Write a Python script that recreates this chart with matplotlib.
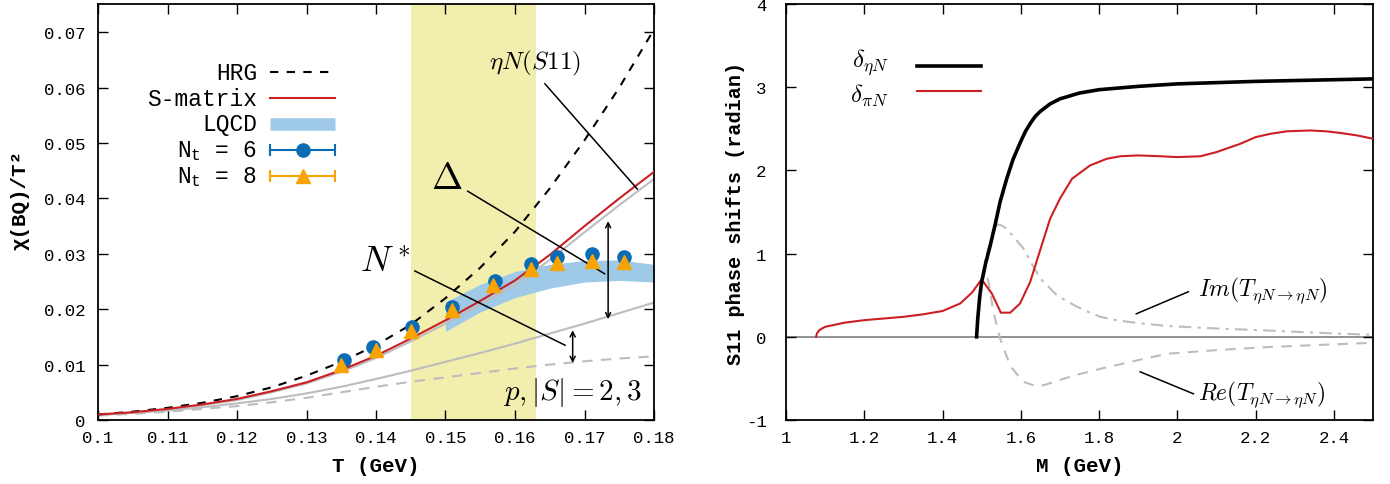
import matplotlib
matplotlib.use('Agg')
import matplotlib.pyplot as plt

plt.rcParams['font.family'] = ['Liberation Mono', 'DejaVu Sans Mono']
plt.rcParams['mathtext.fontset'] = 'cm'
plt.rcParams['mathtext.rm'] = 'Liberation Mono'
plt.rcParams['mathtext.it'] = 'Liberation Mono'
plt.rcParams['mathtext.bf'] = 'Liberation Mono:bold'

# ---------------- left panel data ----------------
T_grid = [0.100, 0.105, 0.110, 0.115, 0.120, 0.125, 0.130, 0.135, 0.140,
          0.145, 0.150, 0.155, 0.160, 0.165, 0.170, 0.175, 0.180]
hrg = [0.0010, 0.0015, 0.0022, 0.0031, 0.0043, 0.0059, 0.0080, 0.0105, 0.0135,
       0.0172, 0.0220, 0.0275, 0.0340, 0.0418, 0.0505, 0.0600, 0.0705]
smatrix = [0.0010, 0.0014, 0.0020, 0.0028, 0.0038, 0.0052, 0.0068, 0.0090, 0.0116,
           0.0147, 0.0180, 0.0215, 0.0252, 0.0298, 0.0350, 0.0400, 0.0448]
etaN_s11 = [0.0009, 0.0013, 0.0019, 0.0027, 0.0036, 0.0050, 0.0066, 0.0087, 0.0112,
            0.0142, 0.0174, 0.0208, 0.0244, 0.0289, 0.0339, 0.0388, 0.0435]
gray_lower = [0.0009, 0.0013, 0.0017, 0.0023, 0.0030, 0.0038, 0.0048, 0.0060, 0.0074,
              0.0089, 0.0105, 0.0121, 0.0138, 0.0156, 0.0174, 0.0193, 0.0212]
p_strange = [0.0008, 0.0011, 0.0015, 0.0020, 0.0025, 0.0032, 0.0040, 0.0050, 0.0060,
             0.0069, 0.0077, 0.0085, 0.0093, 0.0100, 0.0106, 0.0111, 0.0115]

lqcd_T = [0.150, 0.155, 0.160, 0.165, 0.170, 0.175, 0.180]
lqcd_hi = [0.0213, 0.0245, 0.0268, 0.0281, 0.0288, 0.0289, 0.0281]
lqcd_lo = [0.0160, 0.0195, 0.0221, 0.0238, 0.0249, 0.0252, 0.0249]

nt6_T = [0.1354, 0.1396, 0.1452, 0.1509, 0.1571, 0.1623, 0.1660, 0.1711, 0.1757]
nt6_y = [0.0108, 0.0132, 0.0168, 0.0204, 0.0251, 0.0282, 0.0294, 0.0300, 0.0294]
nt8_T = [0.1350, 0.1400, 0.1450, 0.1510, 0.1568, 0.1623, 0.1660, 0.1711, 0.1757]
nt8_y = [0.0099, 0.0127, 0.0161, 0.0198, 0.0243, 0.0273, 0.0283, 0.0287, 0.0285]

left_xticks = [0.10, 0.11, 0.12, 0.13, 0.14, 0.15, 0.16, 0.17, 0.18]
left_xlabels = ['0.1', '0.11', '0.12', '0.13', '0.14', '0.15', '0.16', '0.17', '0.18']
left_yticks = [0, 0.01, 0.02, 0.03, 0.04, 0.05, 0.06, 0.07]
left_ylabels = ['0', '0.01', '0.02', '0.03', '0.04', '0.05', '0.06', '0.07']

# ---------------- right panel data ----------------
eta_M = [1.487, 1.490, 1.495, 1.500, 1.510, 1.522, 1.535, 1.547, 1.564, 1.580,
         1.600, 1.612, 1.625, 1.637, 1.650, 1.675, 1.700, 1.750, 1.800, 1.900,
         2.000, 2.200, 2.500]
eta_delta = [0.00, 0.22, 0.48, 0.66, 0.88, 1.10, 1.36, 1.62, 1.90, 2.13,
             2.35, 2.47, 2.57, 2.65, 2.71, 2.80, 2.86, 2.93, 2.97, 3.01,
             3.04, 3.07, 3.10]

pi_M = [1.077, 1.079, 1.085, 1.100, 1.150, 1.200, 1.250, 1.300, 1.350, 1.400,
        1.445, 1.475, 1.500, 1.526, 1.549, 1.573, 1.598, 1.624, 1.650, 1.675,
        1.700, 1.731, 1.777, 1.820, 1.854, 1.900, 1.957, 2.000, 2.059, 2.100,
        2.161, 2.200, 2.238, 2.280, 2.340, 2.380, 2.417, 2.460, 2.500]
pi_delta = [0.00, 0.04, 0.08, 0.12, 0.17, 0.20, 0.22, 0.24, 0.27, 0.31,
            0.40, 0.53, 0.69, 0.52, 0.29, 0.29, 0.40, 0.66, 1.05, 1.42,
            1.66, 1.90, 2.06, 2.14, 2.17, 2.18, 2.17, 2.16, 2.17, 2.22,
            2.32, 2.40, 2.44, 2.47, 2.48, 2.47, 2.45, 2.42, 2.38]

im_M = [1.487, 1.495, 1.500, 1.510, 1.522, 1.532, 1.539, 1.550, 1.564, 1.580,
        1.607, 1.630, 1.650, 1.692, 1.740, 1.777, 1.803, 1.850, 1.900, 1.974,
        2.100, 2.229, 2.350, 2.500]
im_T = [0.00, 0.45, 0.70, 0.95, 1.14, 1.30, 1.35, 1.34, 1.30, 1.21,
        1.06, 0.86, 0.70, 0.50, 0.37, 0.29, 0.24, 0.195, 0.165, 0.13,
        0.10, 0.076, 0.05, 0.024]

re_M = [1.487, 1.495, 1.500, 1.509, 1.518, 1.530, 1.547, 1.573, 1.606, 1.637,
        1.660, 1.692, 1.740, 1.803, 1.900, 1.974, 2.100, 2.229, 2.350, 2.500]
re_T = [0.00, 0.40, 0.62, 0.80, 0.65, 0.30, -0.02, -0.35, -0.54, -0.59,
        -0.58, -0.53, -0.46, -0.385, -0.28, -0.204, -0.16, -0.124, -0.10, -0.072]

right_xticks = [1.0, 1.2, 1.4, 1.6, 1.8, 2.0, 2.2, 2.4]
right_xlabels = ['1', '1.2', '1.4', '1.6', '1.8', '2', '2.2', '2.4']
right_yticks = [-1, 0, 1, 2, 3, 4]
right_ylabels = ['-1', '0', '1', '2', '3', '4']

# ---------------- styling ----------------
W, H = 1390, 485
fig = plt.figure(figsize=(W / 100, H / 100), dpi=100)
ax1 = fig.add_axes([98 / W, 64 / H, 556 / W, 416 / H])
ax2 = fig.add_axes([786 / W, 64 / H, 587 / W, 416 / H])

RED = '#cc1f24'
GRAY = '#bdbdbd'
BLUE = '#0b6cb6'
ORANGE = '#f8a300'
BAND = '#9ecae8'
YELLOW = '#f1eeae'

for ax in (ax1, ax2):
    ax.tick_params(direction='in', top=True, right=True, length=7, width=1,
                   labelsize=12.5, pad=9)
    for s in ax.spines.values():
        s.set_linewidth(1.3)

# ---- left panel ----
ax1.axvspan(0.145, 0.163, color=YELLOW, lw=0, zorder=0)
ax1.fill_between(lqcd_T, lqcd_lo, lqcd_hi, color=BAND, lw=0, zorder=1)
ax1.plot(T_grid, p_strange, color=GRAY, lw=1.5, ls=(0, (5, 4)), zorder=2)
ax1.plot(T_grid, gray_lower, color=GRAY, lw=1.5, zorder=2)
ax1.plot(T_grid, etaN_s11, color=GRAY, lw=1.5, zorder=2)
ax1.plot(T_grid, hrg, color='black', lw=1.5, ls=(0, (4, 4)), zorder=3)
ax1.plot(T_grid, smatrix, color=RED, lw=1.5, zorder=3)
ax1.plot(nt6_T, nt6_y, 'o', ms=9.5, color=BLUE, zorder=5)
ax1.plot(nt8_T, nt8_y, '^', ms=10, color=ORANGE, zorder=6)

ax1.set_xlim(0.1, 0.18)
ax1.set_ylim(0, 0.0751)
ax1.set_xticks(left_xticks)
ax1.set_xticklabels(left_xlabels)
ax1.set_yticks(left_yticks)
ax1.set_yticklabels(left_ylabels)
ax1.tick_params(axis='x', pad=7)


def lx(px):
    return (px - 98) / 556


def ly(py):
    return (421 - py) / 416


# manual gnuplot-like legend
leg_rows = [73, 99, 125, 151, 177]
tx = lx(257)
sx0, sx1 = lx(270), lx(335)
lab_kw = dict(transform=ax1.transAxes, ha='right', va='center', fontsize=16.5,
              math_fontfamily='custom')
ax1.text(tx, ly(leg_rows[0]), 'HRG', **lab_kw)
ax1.text(tx, ly(leg_rows[1]), 'S-matrix', **lab_kw)
ax1.text(tx, ly(leg_rows[2]), 'LQCD', **lab_kw)
ax1.text(tx, ly(leg_rows[3]), r'N$_{\mathrm{t}}$ = 6', **lab_kw)
ax1.text(tx, ly(leg_rows[4]), r'N$_{\mathrm{t}}$ = 8', **lab_kw)
tk = dict(transform=ax1.transAxes, clip_on=False)
ax1.plot([sx0, sx1], [ly(leg_rows[0])] * 2, color='black', lw=1.5, ls=(0, (4, 4)), **tk)
ax1.plot([sx0, sx1], [ly(leg_rows[1])] * 2, color=RED, lw=1.5, **tk)
ax1.plot([sx0, sx1], [ly(leg_rows[2])] * 2, color=BAND, lw=9, solid_capstyle='butt', **tk)
for row, col, mk, ms in ((leg_rows[3], BLUE, 'o', 9.5), (leg_rows[4], ORANGE, '^', 10)):
    ax1.plot([sx0, sx1], [ly(row)] * 2, color=col, lw=1.5, **tk)
    ax1.plot([sx0, sx1], [ly(row)] * 2, ls='none', marker='|', ms=9, mew=1.5, color=col, **tk)
    ax1.plot([(sx0 + sx1) / 2], [ly(row)], ls='none', marker=mk, ms=ms, color=col, **tk)

# annotations
ax1.text(0.1629, 0.0646, r'$\eta N(S11)$', fontsize=18, ha='center', va='center')
ax1.plot([0.1643, 0.1776], [0.0607, 0.0417], color='black', lw=1.1, zorder=4)
ax1.text(0.1502, 0.0437, r'$\Delta$', fontsize=27, ha='center', va='center')
ax1.plot([0.1532, 0.1729], [0.0413, 0.0264], color='black', lw=1.1, zorder=4)
ax1.text(0.1413, 0.0287, r'$N^*$', fontsize=26, ha='center', va='center')
ax1.plot([0.1456, 0.1672], [0.0269, 0.0135], color='black', lw=1.1, zorder=4)
ax1.text(0.1783, 0.0052, r'$p,|S|=2,3$', fontsize=21, ha='right', va='center')
arr = dict(arrowstyle='<->', lw=1.1, color='black', shrinkA=0, shrinkB=0, mutation_scale=9)
ax1.annotate('', xy=(0.1734, 0.0359), xytext=(0.1734, 0.0182), arrowprops=arr)
ax1.annotate('', xy=(0.1683, 0.0162), xytext=(0.1683, 0.0103), arrowprops=arr)

fig.text(98 / W + 556 / W / 2, 1 - 467 / H, 'T (GeV)', ha='center', va='center',
         fontsize=15, fontweight='bold')
fig.text(20 / W, 1 - 200 / H, 'χ(BQ)/T²', ha='center', va='center', rotation=90,
         fontsize=15, fontweight='bold')

# ---- right panel ----
ax2.axhline(0, color='#7f7f7f', lw=1.2, zorder=1)
ax2.plot(im_M, im_T, color=GRAY, lw=1.5, ls=(0, (6, 3, 1.5, 3)), zorder=2)
ax2.plot(re_M, re_T, color=GRAY, lw=1.5, ls=(0, (5, 4)), zorder=2)
ax2.plot(pi_M, pi_delta, color=RED, lw=1.5, zorder=3)
ax2.plot(eta_M, eta_delta, color='black', lw=2.6, zorder=4)

ax2.set_xlim(1.0, 2.5)
ax2.set_ylim(-1, 4)
ax2.set_xticks(right_xticks)
ax2.set_xticklabels(right_xlabels)
ax2.set_yticks(right_yticks)
ax2.set_yticklabels(right_ylabels)
ax2.tick_params(axis='x', pad=7)
ax2.tick_params(axis='y', pad=14)


def rx(px):
    return (px - 786) / 587


def ry(py):
    return (421 - py) / 416


ax2.text(rx(889), ry(63), r'$\delta_{\eta N}$', transform=ax2.transAxes,
         ha='right', va='center', fontsize=18)
ax2.text(rx(889), ry(95), r'$\delta_{\pi N}$', transform=ax2.transAxes,
         ha='right', va='center', fontsize=18)
ax2.plot([rx(917), rx(981)], [ry(67)] * 2, color='black', lw=2.6,
         transform=ax2.transAxes, clip_on=False)
ax2.plot([rx(917), rx(981)], [ry(92)] * 2, color=RED, lw=1.5,
         transform=ax2.transAxes, clip_on=False)

ax2.text(2.053, 0.559, r'$Im(T_{\eta N\to\eta N})$', fontsize=17, ha='left', va='center')
ax2.plot([1.895, 2.028], [0.276, 0.541], color='black', lw=1.1)
ax2.text(2.053, -0.685, r'$Re(T_{\eta N\to\eta N})$', fontsize=17, ha='left', va='center')
ax2.plot([1.905, 2.041], [-0.421, -0.685], color='black', lw=1.1)

fig.text(786 / W + 587 / W / 2, 1 - 467 / H, 'M (GeV)', ha='center', va='center',
         fontsize=15, fontweight='bold')
fig.text(735 / W, 1 - 213 / H, 'S11 phase shifts (radian)', ha='center', va='center',
         rotation=90, fontsize=14.5, fontweight='bold')

fig.savefig('out.png', dpi=100)
